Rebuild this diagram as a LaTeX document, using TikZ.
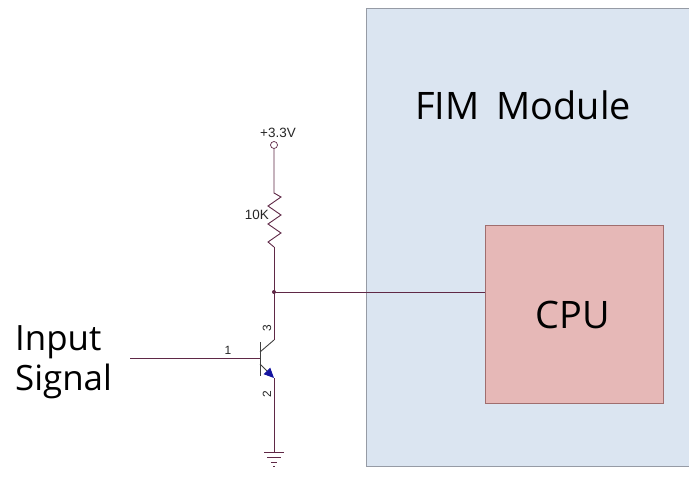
\documentclass[tikz,border=0pt]{standalone}
\usepackage{fontspec}
\setmainfont{Open Sans}
\newfontfamily\schfont{Liberation Sans}
\usetikzlibrary{arrows.meta,calc}

\definecolor{modfill}{RGB}{219,229,241}
\definecolor{modline}{RGB}{150,155,165}
\definecolor{cpufill}{RGB}{230,184,183}
\definecolor{cpuline}{RGB}{160,110,110}
\definecolor{wirecol}{RGB}{95,40,70}
\definecolor{arrowcol}{RGB}{20,20,160}

\tikzset{
  wire/.style={color=wirecol, line width=0.9bp},
  pinlabel/.style={font=\schfont\fontsize{12}{13}\selectfont, inner sep=0pt, text=black!85},
  netlabel/.style={font=\schfont\fontsize{13.5}{14}\selectfont, inner sep=0pt, text=black!85},
  biglabel/.style={font=\fontsize{38}{40}\selectfont, inner sep=0pt},
}

\begin{document}
\begin{tikzpicture}[x=1bp,y=-1bp]
\useasboundingbox (0,0) rectangle (689,493);
\fill[white] (0,0) rectangle (689,493);

% FIM module and CPU
\node[draw=modline, fill=modfill, line width=0.8bp, minimum width=340bp, minimum height=458bp, anchor=north west, inner sep=0pt] (fim) at (366,8) {};
\node[biglabel] (fimtext) at (523,105) {FIM\hspace{0.2em} Module};
\node[draw=cpuline, fill=cpufill, line width=0.8bp, minimum width=178bp, minimum height=178bp, anchor=north west, inner sep=0pt] (cpu) at (485,225) {};
\node[biglabel] (cputext) at (573,315) {CPU};

% supply and pull-up
\node[draw=wirecol, circle, inner sep=0pt, minimum size=7bp, line width=0.7bp] (vcc) at (274,145) {};
\node[netlabel, anchor=base] (vcclabel) at (278,138) {+3.3V};
\coordinate (rtop) at (274,193);
\coordinate (rbot) at (274,247);
\node[netlabel, anchor=east] (rlabel) at (269,215) {10K};
\draw[wire] (vcc) -- (rtop)
  -- ++(7,4) -- ++(-13,9) -- ++(13,9) -- ++(-13,9) -- ++(13,9) -- ++(-13,9) -- (rbot);
\coordinate (junc) at (274,292);
\draw[wire] (rbot) -- (junc);
\fill[wirecol] (junc) circle (2bp);
\draw[wire] (junc) -- (cpu.west |- junc);

% transistor
\coordinate (btop) at (260,342);
\coordinate (bbot) at (260,376);
\coordinate (base) at (260,358);
\coordinate (ctop) at (274,340);
\coordinate (eend) at (274,378);
\coordinate (gnd) at (274,452);
\draw[wire, color=black!75] (btop) -- (bbot);
\draw[wire] (junc) -- (ctop);
\draw[wire, color=black!75] (ctop) -- (260,352);
\draw[color=black!75, line width=0.9bp, -{Triangle[length=10bp,width=9bp,color=arrowcol]}] (260,364) -- (eend);
\draw[wire] (eend) -- (gnd);
\coordinate (sigin) at (130,358);
\draw[wire] (sigin) -- (base);
\node[pinlabel] (pin1) at (228,350) {1};
\node[pinlabel, rotate=90] (pin3) at (267,328) {3};
\node[pinlabel, rotate=90] (pin2) at (267,394) {2};

% ground
\draw[wire] ($(gnd)+(-10,0)$) -- ($(gnd)+(10,0)$);
\draw[wire] (267,457) -- (281,457);
\draw[wire] (271,462) -- (277,462);
\draw[wire] (273,466) -- (275,466);

% input label
\node[font=\fontsize{35}{40}\selectfont, align=left, anchor=west, inner sep=0pt] (insig) at (15,362) {Input\\Signal};
\end{tikzpicture}
\end{document}
